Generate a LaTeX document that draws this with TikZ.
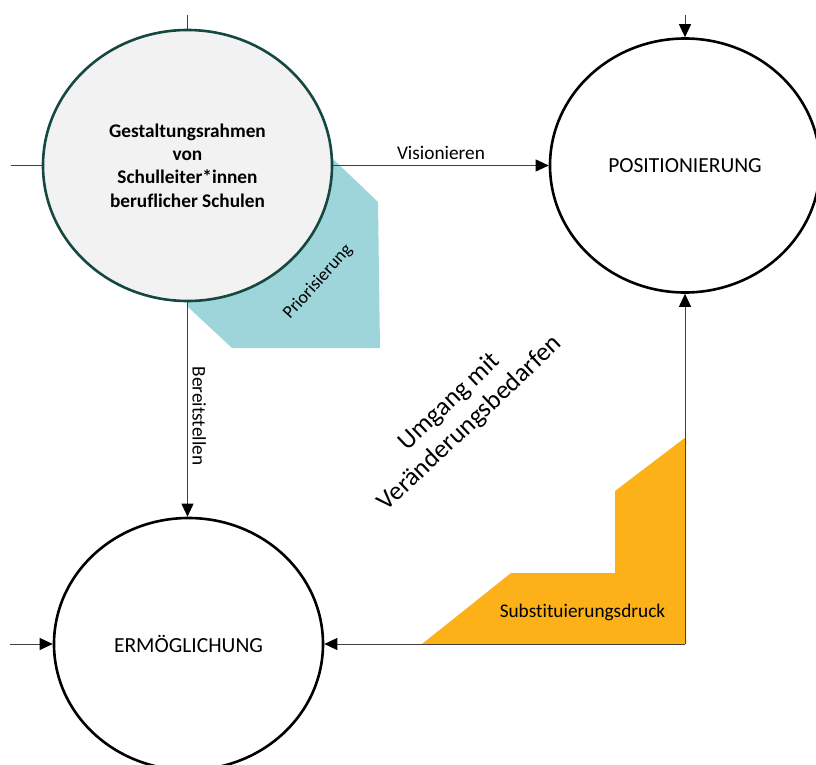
\documentclass[tikz,border=0pt]{standalone}
\usepackage{fontspec}
\setmainfont{Carlito}[Ligatures=NoCommon]
\usetikzlibrary{shapes.geometric,arrows.meta}
\definecolor{tealfill}{RGB}{157,213,218}
\definecolor{orangefill}{RGB}{251,177,23}
\definecolor{darkteal}{RGB}{22,72,66}
\definecolor{circfill}{RGB}{242,242,242}
\definecolor{linegray}{RGB}{64,64,64}

\begin{document}
\begin{tikzpicture}[x=1pt, y=-1pt,
		phase/.style={ellipse, draw=black, line width=2.6pt, align=center, inner sep=0pt},
		link/.style={draw=linegray, line width=0.9pt},
		arr/.style={link, -{Triangle[length=13pt,width=12pt,color=black]}},
		bigtext/.style={font=\fontsize{21.5}{26}\selectfont},
		smalltext/.style={font=\fontsize{19.3}{23.3}\selectfont}]
		\useasboundingbox (0,0) rectangle (816,765);
		% coloured fields behind the circles
		\fill[tealfill] (188,160) -- (332,158) -- (378,202) -- (380,348) -- (232,348) -- (188,307) -- cycle;
		\fill[orangefill] (422,644) -- (511,573) -- (615,573) -- (615,491) -- (686,437) -- (686,644) -- cycle;
		% the three fields
		\node[phase, draw=darkteal, fill=circfill, minimum width=289pt, minimum height=271pt,
			font=\fontsize{19.3}{23.3}\selectfont\bfseries] (gest) at (187.5,165.5)
			{Gestaltungsrahmen\\von\\Schulleiter*innen\\beruflicher Schulen};
		\node[phase, bigtext, minimum width=270pt, minimum height=254pt] (posi) at (685,165.5) {POSITIONIERUNG};
		\node[phase, bigtext, minimum width=269pt, minimum height=252pt] (erm) at (188.5,644) {ERMÖGLICHUNG};
		% free ends
		\coordinate (gtop) at (187.5,15);
		\coordinate (gleft) at (11,165.5);
		\coordinate (ptop) at (685,15);
		\coordinate (eleft) at (10,644);
		\coordinate (corner) at (posi.south |- erm.east);
		% connectors
		\draw[link] (gtop) -- (gest.north);
		\draw[link] (gleft) -- (gest.west);
		\draw[arr] (ptop) -- (posi.north);
		\draw[arr] (eleft) -- (erm.west);
		\draw[arr] (gest.east) -- node[smalltext, above=5pt, inner sep=0pt] {Visionieren} (posi.west);
		\draw[arr] (gest.south) -- node[smalltext, pos=0.53, rotate=-90, anchor=south, inner sep=0pt, outer sep=5pt] {Bereitstellen} (gest.south |- erm.north);
		\draw[arr] (corner) -- (erm.east);
		\draw[arr] (corner) -- (posi.south);
		% labels on the fields
		\node[rotate=48, font=\fontsize{18}{22}\selectfont] (prio) at (318,282) {Priorisierung};
		\node[smalltext] (subst) at (582.5,612) {Substituierungsdruck};
		\node[rotate=43.4, align=center, font=\fontsize{26}{30}\selectfont] (umgang) at (460,413) {Umgang mit\\Veränderungsbedarfen};
	\end{tikzpicture}
\end{document}
